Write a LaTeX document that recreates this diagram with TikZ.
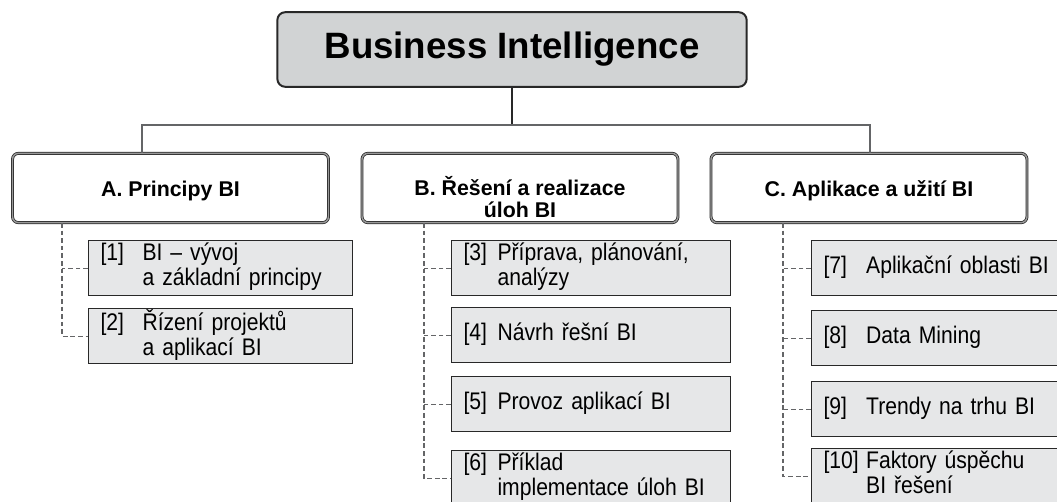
\documentclass[tikz,border=0pt]{standalone}
\usepackage{fontspec}
\setmainfont{Liberation Sans}
\newfontfamily\itemfont[FakeStretch=0.88,WordSpace=0.85]{Liberation Sans}
\usepackage{xcolor}
\definecolor{titlegray}{RGB}{209,211,212}
\definecolor{itemgray}{RGB}{230,231,232}
\definecolor{linegray}{RGB}{100,101,103}
\definecolor{edgegray}{RGB}{40,40,40}
\newcommand{\itm}[3]{\makebox[#1][l]{#2}\begin{tabular}[t]{@{}l@{}}#3\end{tabular}}

\begin{document}
\begin{tikzpicture}[x=0.75pt,y=-0.75pt,
        titlebox/.style={draw=edgegray,line width=1.5pt,fill=titlegray,rounded corners=6pt,
            minimum width=352pt,minimum height=56pt,font=\bfseries\fontsize{27.5}{30}\selectfont},
        catbox/.style={draw=edgegray,double=black!40,line width=0.55pt,double distance=1.1pt,
            fill=white,rounded corners=4.5pt,minimum width=237pt,minimum height=52pt,
            text height=13.5pt,text depth=0pt,align=center,font=\bfseries\fontsize{16}{16}\selectfont},
        itembox/.style={draw=edgegray,line width=0.8pt,fill=itemgray,anchor=north west,
            minimum height=41.5pt,inner xsep=9pt,inner ysep=0pt,text width=#1,align=left,
            font=\itemfont\fontsize{18}{19}\selectfont},
        link/.style={linegray,line width=0.8pt},
        branch/.style={linegray,line width=0.8pt,dash pattern=on 3.5pt off 2.2pt}]
        \useasboundingbox (0,0) rectangle (1057,502);
        % title
        \node[titlebox] (bi) at (512,49.5) {Business Intelligence};
        % groups
        \node[catbox] (ca) at (170.5,188) {A. Principy BI};
        \node[catbox,text height=44pt,inner ysep=0pt] (cb) at (520,188) {B. Řešení a realizace\\úloh BI};
        \node[catbox] (cc) at (869,188) {C. Aplikace a užití BI};
        % bus
        \coordinate (busa) at (142,125);
        \coordinate (busc) at (870,125);
        \draw[link,edgegray] (bi.south) -- (bi.south |- busa);
        \draw[link] (busa |- ca.north) -- (busa) -- (busc) -- (busc |- cc.north);
        % items
        \node[itembox=180pt] (i1) at (88,240) {\itm{31.5pt}{[1]}{BI – vývoj\\a základní principy}};
        \node[itembox=180pt] (i2) at (88,308) {\itm{31.5pt}{[2]}{Řízení projektů\\a aplikací BI}};
        \node[itembox=191pt] (i3) at (451,240) {\itm{25.5pt}{[3]}{Příprava, plánování,\\analýzy}};
        \node[itembox=191pt] (i4) at (451,307) {\itm{25.5pt}{[4]}{Návrh řešní BI}};
        \node[itembox=191pt] (i5) at (451,376) {\itm{25.5pt}{[5]}{Provoz aplikací BI}};
        \node[itembox=191pt] (i6) at (451,450) {\itm{25.5pt}{[6]}{Příklad\\implementace úloh BI}};
        \node[itembox=199pt] (i7) at (811,240) {\itm{32pt}{[7]}{Aplikační oblasti BI}};
        \node[itembox=199pt] (i8) at (811,310) {\itm{32pt}{[8]}{Data Mining}};
        \node[itembox=199pt] (i9) at (811,381) {\itm{32pt}{[9]}{Trendy na trhu BI}};
        \node[itembox=199pt] (i10) at (811,448) {\itm{32pt}{[10]}{Faktory úspěchu\\BI řešení}};
        % ties
        \coordinate (ta) at (ca.south -| 62,0);
        \coordinate (tb) at (cb.south -| 424,0);
        \coordinate (tc) at (cc.south -| 783,0);
        \draw[branch] (ta) |- (i2.west);
        \draw[branch] (i1.west) -- (i1.west -| ta);
        \draw[branch] (tb) |- (i6.west);
        \draw[branch] (i3.west) -- (i3.west -| tb);
        \draw[branch] (i4.west) -- (i4.west -| tb);
        \draw[branch] (i5.west) -- (i5.west -| tb);
        \draw[branch] (tc) |- (i10.west);
        \draw[branch] (i7.west) -- (i7.west -| tc);
        \draw[branch] (i8.west) -- (i8.west -| tc);
        \draw[branch] (i9.west) -- (i9.west -| tc);
    \end{tikzpicture}
\end{document}
